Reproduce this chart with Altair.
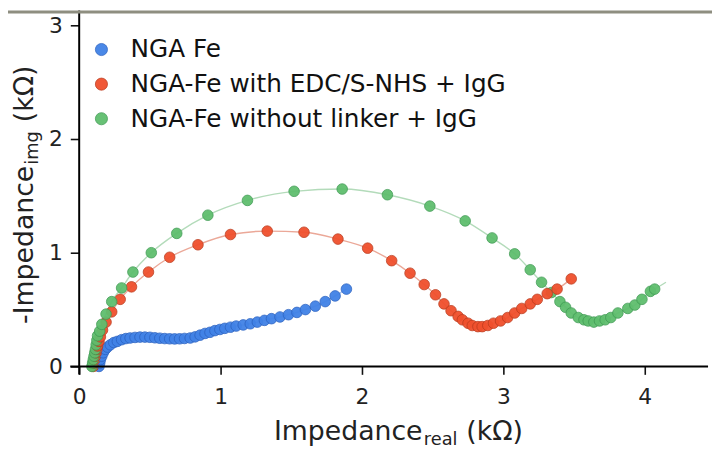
import altair as alt
import pandas as pd

# ---------------- data ----------------
series_names = ["NGA Fe", "NGA-Fe with EDC/S-NHS + IgG", "NGA-Fe without linker + IgG"]

blue_x = [0.14, 0.145, 0.15, 0.16, 0.17, 0.185, 0.20, 0.22, 0.245, 0.27, 0.30, 0.33, 0.36, 0.395,
          0.43, 0.465, 0.50, 0.535, 0.57, 0.605, 0.64, 0.675, 0.71, 0.745, 0.785, 0.82, 0.855, 0.89,
          0.925, 0.96, 0.995, 1.03, 1.07, 1.11, 1.16, 1.21, 1.26, 1.31, 1.36, 1.42, 1.48, 1.54, 1.60,
          1.67, 1.74, 1.81, 1.89]
blue_y = [0.0, 0.03, 0.06, 0.09, 0.12, 0.15, 0.17, 0.19, 0.21, 0.22, 0.235, 0.245, 0.25, 0.255,
          0.258, 0.258, 0.256, 0.252, 0.248, 0.245, 0.243, 0.242, 0.243, 0.246, 0.25, 0.26, 0.275, 0.29,
          0.30, 0.315, 0.325, 0.335, 0.345, 0.355, 0.365, 0.375, 0.39, 0.405, 0.42, 0.435, 0.455, 0.475, 0.50,
          0.53, 0.57, 0.62, 0.68]

red_x = [0.10, 0.105, 0.11, 0.115, 0.12, 0.125, 0.13, 0.14, 0.15, 0.165, 0.19, 0.23, 0.29, 0.37, 0.49,
         0.64, 0.84, 1.07, 1.33, 1.59, 1.83, 2.04, 2.21, 2.34, 2.44, 2.52, 2.58, 2.63, 2.68, 2.71, 2.75,
         2.78, 2.82, 2.85, 2.89, 2.93, 2.98, 3.03, 3.08, 3.13, 3.19, 3.24, 3.31, 3.38, 3.48]
red_y = [0.0, 0.03, 0.06, 0.09, 0.12, 0.15, 0.18, 0.22, 0.26, 0.32, 0.39, 0.48, 0.59, 0.70, 0.83,
         0.96, 1.07, 1.16, 1.19, 1.18, 1.12, 1.04, 0.93, 0.82, 0.72, 0.63, 0.55, 0.49, 0.44, 0.41, 0.38,
         0.36, 0.35, 0.35, 0.36, 0.38, 0.40, 0.43, 0.47, 0.51, 0.55, 0.59, 0.64, 0.68, 0.77]

green_x = [0.09, 0.095, 0.10, 0.105, 0.11, 0.115, 0.12, 0.125, 0.13, 0.145, 0.16, 0.19, 0.23, 0.30,
           0.38, 0.51, 0.69, 0.91, 1.19, 1.52, 1.86, 2.18, 2.48, 2.73, 2.92, 3.08, 3.19, 3.27, 3.34,
           3.40, 3.44, 3.48, 3.53, 3.57, 3.60, 3.64, 3.68, 3.72, 3.76, 3.81, 3.88, 3.93, 3.98, 4.04, 4.07]
green_y = [0.0, 0.03, 0.06, 0.09, 0.12, 0.15, 0.19, 0.23, 0.27, 0.31, 0.37, 0.46, 0.57, 0.69,
           0.83, 1.00, 1.17, 1.33, 1.46, 1.54, 1.56, 1.51, 1.41, 1.28, 1.13, 0.99, 0.85, 0.74, 0.65,
           0.57, 0.52, 0.47, 0.43, 0.41, 0.40, 0.39, 0.40, 0.41, 0.43, 0.47, 0.51, 0.54, 0.59, 0.66, 0.68]

# fitted curve end points that run past the last marker
green_fit_end_x = [4.15]
green_fit_end_y = [0.74]

x_ticks = [0, 0.5, 1, 1.5, 2, 2.5, 3, 3.5, 4]
y_ticks = [0, 0.5, 1, 1.5, 2, 2.5, 3]

fill_colors = ["#4182E6", "#F0502D", "#5FBE6E"]
stroke_colors = ["#2B62C0", "#B93A1D", "#3E9A52"]
line_colors = ["#A9C4F0", "#EBA898", "#B3DBBA"]

FONT = "DejaVu Sans"
W, H = 636, 360
X_MAX = W / 143.0
Y_MAX = H / 115.0

# ---------------- tables ----------------
rows = []
for name, xs, ys in zip(series_names, [blue_x, red_x, green_x], [blue_y, red_y, green_y]):
    for i, (a, b) in enumerate(zip(xs, ys)):
        rows.append({"series": name, "x": a, "y": b, "i": i})
pts = pd.DataFrame(rows)

line_rows = list(rows)
for a, b in zip(green_fit_end_x, green_fit_end_y):
    line_rows.append({"series": series_names[2], "x": a, "y": b, "i": 999})
lines_df = pd.DataFrame(line_rows)

xs = alt.Scale(domain=[0, X_MAX], nice=False, zero=False)
ys = alt.Scale(domain=[0, Y_MAX], nice=False, zero=False)

x_axis = alt.Axis(values=x_ticks, format="d",
                  labelExpr="datum.value % 1 === 0 ? datum.label : ''",
                  domain=False, grid=False, title=None, labelFont=FONT, labelFontSize=22,
                  labelColor="#222222", tickColor="#111111", tickWidth=1.6,
                  tickSize={"condition": {"test": "datum.value % 1 === 0", "value": 8}, "value": 5},
                  labelPadding=13, labelFlush=False, labelOverlap=False)
y_axis = alt.Axis(values=y_ticks, format="d",
                  labelExpr="datum.value % 1 === 0 ? datum.label : ''",
                  domain=False, grid=False, title=None, labelFont=FONT, labelFontSize=22,
                  labelColor="#222222", tickColor="#111111", tickWidth=1.6,
                  tickSize={"condition": {"test": "datum.value % 1 === 0", "value": 9}, "value": 4},
                  labelPadding=8, labelFlush=False, labelOverlap=False)

layers = []

# fitted lines
for name, lc in zip(series_names, line_colors):
    layers.append(
        alt.Chart(lines_df).transform_filter(alt.datum.series == name)
        .mark_line(color=lc, strokeWidth=1.4, interpolate="monotone")
        .encode(x=alt.X("x:Q", scale=xs, axis=x_axis), y=alt.Y("y:Q", scale=ys, axis=y_axis),
                order="i:Q")
    )

# markers
points = alt.Chart(pts).mark_point(filled=True, size=115, opacity=0.95, strokeWidth=0.8,
                                   shape="circle").encode(
    x=alt.X("x:Q", scale=xs, axis=x_axis),
    y=alt.Y("y:Q", scale=ys, axis=y_axis),
    color=alt.Color("series:N", scale=alt.Scale(domain=series_names, range=fill_colors),
                    sort=series_names,
                    legend=alt.Legend(title=None, orient="none", legendX=10, legendY=27,
                                      labelFont=FONT, labelFontSize=25, labelColor="#111111",
                                      symbolSize=150, symbolType="circle", labelOffset=17,
                                      rowPadding=9, symbolStrokeWidth=0.8, padding=0,
                                      labelLimit=600)),
    stroke=alt.Stroke("series:N", scale=alt.Scale(domain=series_names, range=stroke_colors),
                      sort=series_names, legend=alt.Legend(title=None, orient="none",
                                                           legendX=10, legendY=27)),
    order="i:Q",
)
layers.append(points)

one = pd.DataFrame({"k": [0]})

# axis lines (crossing at the origin)
layers.append(alt.Chart(one).mark_rule(color="#000000", strokeWidth=2).encode(
    x=alt.X(datum=-0.063, scale=xs), x2=alt.X2(datum=X_MAX), y=alt.Y(datum=0, scale=ys)))
layers.append(alt.Chart(one).mark_rule(color="#000000", strokeWidth=2).encode(
    x=alt.X(datum=0, scale=xs), y=alt.Y(datum=-0.07, scale=ys), y2=alt.Y2(datum=Y_MAX)))

# axis titles with subscripts
def txt(t, x, y, size, angle=0):
    kw = dict(text=t, font=FONT, fontSize=size, color="#222222", align="left",
              baseline="alphabetic")
    if angle:
        kw["angle"] = angle
    return alt.Chart(one).mark_text(**kw).encode(x=alt.value(x), y=alt.value(y))

layers += [
    txt("Impedance", 197, 434, 27),
    txt("real", 348.5, 439, 18),
    txt("(kΩ)", 391.5, 434, 27),
    txt("-Impedance", -47, 317, 27, 270),
    txt("img", -42, 156, 18, 270),
    txt("(kΩ)", -47, 113, 27, 270),
]

# thin grey frame line along the top edge
layers.append(alt.Chart(one).mark_rule(color="#8E8E80", strokeWidth=3).encode(
    x=alt.value(-72), x2=alt.value(W + 4), y=alt.value(1.5)))

chart = alt.layer(*layers).properties(
    width=W, height=H,
    autosize=alt.AutoSizeParams(type="none"),
    padding={"left": 72, "top": 0, "right": 4, "bottom": 80},
    background="white",
).configure_view(stroke=None)

chart.save("out.html", embed_options={"renderer": "svg", "actions": False})
